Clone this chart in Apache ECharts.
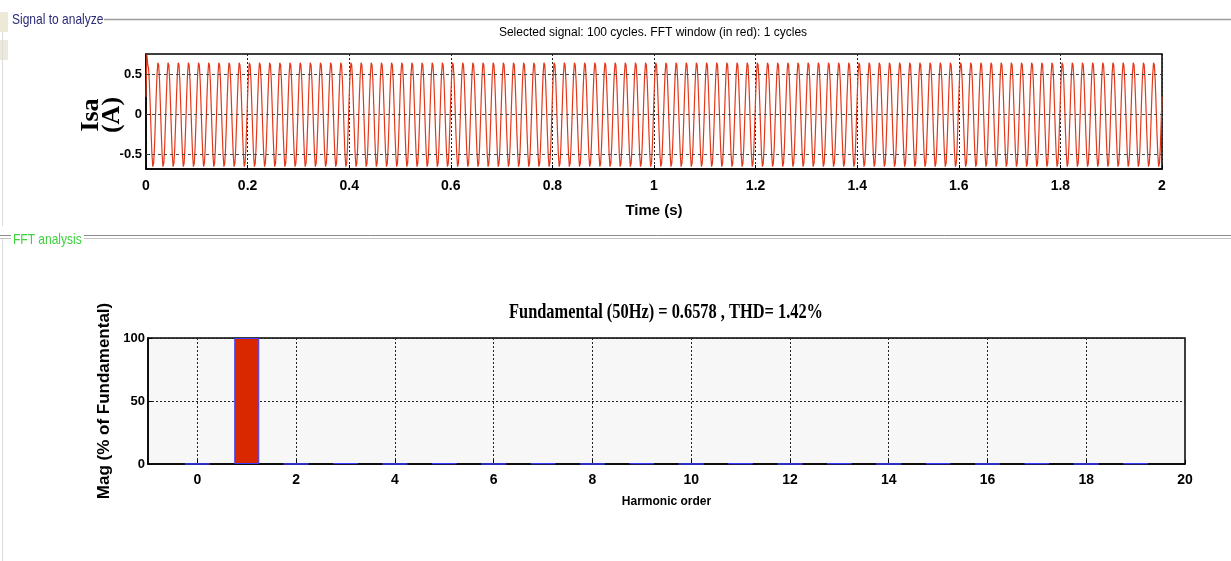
<!DOCTYPE html>
<html>
<head>
<meta charset="utf-8">
<script src="https://cdn.jsdelivr.net/npm/echarts@6/dist/echarts.min.js"></script>
<style>
  html, body { margin: 0; padding: 0; background: #fff; }
  #chart { width: 1231px; height: 561px; }
</style>
</head>
<body>
<div id="chart"></div>
<script>
// ---- signal to analyze: 100 cycles at 50 Hz over 2 s ----
// one cycle of the trace (12 samples); the first cycle has the start-up overshoot
const signalDuration = 2;
const signalCycles = 100;
const firstCycle = [0.22, 0.76, 0.63, 0.58, 0.40, 0.11, -0.22, -0.50, -0.66, -0.62, -0.42, -0.11];
const cycleSamples = [0.22, 0.50, 0.65, 0.62, 0.42, 0.11, -0.22, -0.50, -0.66, -0.62, -0.42, -0.11];
const currentTicks = [-0.5, 0, 0.5];

// ---- FFT analysis ----
const harmonicOrders = [0, 1, 2, 3, 4, 5, 6, 7, 8, 9, 10, 11, 12, 13, 14, 15, 16, 17, 18, 19];
const harmonicMags = [0.05, 100, 0.05, 0.6, 0.04, 0.5, 0.04, 0.45, 0.03, 0.45, 0.03, 0.45, 0.03, 0.45, 0.03, 0.45, 0.03, 0.45, 0.03, 0.45];
const harmonicTicks = [0, 2, 4, 6, 8, 10, 12, 14, 16, 18, 20];

const sans = "Arial, 'Liberation Sans', sans-serif";
const serif = "'Times New Roman', 'Liberation Serif', serif";

// build the trace from the sampled cycles
const perCycle = cycleSamples.length;
const signalData = [];
for (let k = 0; k < signalCycles; k++) {
  const cyc = k === 0 ? firstCycle : cycleSamples;
  for (let i = 0; i < perCycle; i++) {
    const t = (k * perCycle + i) / (perCycle * signalCycles) * signalDuration;
    signalData.push([t, cyc[i]]);
  }
}
signalData.push([signalDuration, cycleSamples[0]]);

const harmonicData = harmonicOrders.map((h, i) => [h, harmonicMags[i]]);

// grid lines drawn as mark lines where the axes do not start on a tick
const dotted = { color: '#222', type: [2, 2], width: 1 };
const dashed = { color: '#444', type: [3, 3], width: 1 };

const chart = echarts.init(document.getElementById('chart'));

const option = {
  animation: false,
  backgroundColor: '#fff',
  grid: [
    {
      left: 146, top: 54, width: 1016, height: 115,
      show: true, borderColor: '#000', borderWidth: 1.5, backgroundColor: '#fff'
    },
    {
      left: 148, top: 338, width: 1037, height: 126,
      show: true, borderColor: '#000', borderWidth: 1.5, backgroundColor: '#f7f7f7'
    }
  ],
  xAxis: [
    {
      gridIndex: 0, type: 'value', min: 0, max: 2, interval: 0.2,
      name: 'Time (s)', nameLocation: 'middle', nameGap: 34,
      nameTextStyle: { fontFamily: sans, fontWeight: 'bold', fontSize: 15, color: '#000' },
      axisLine: { onZero: false, lineStyle: { color: '#000', width: 1.5 } },
      axisTick: { inside: true, length: 4, lineStyle: { color: '#000' } },
      axisLabel: { margin: 10, color: '#000', fontFamily: sans, fontWeight: 'bold', fontSize: 14 },
      splitLine: { show: true, lineStyle: dotted }
    },
    {
      gridIndex: 1, type: 'value', min: -1, max: 20,
      name: 'Harmonic order', nameLocation: 'middle', nameGap: 32,
      nameTextStyle: { fontFamily: sans, fontWeight: 'bold', fontSize: 12, color: '#000' },
      axisLine: { onZero: false, lineStyle: { color: '#000', width: 1.5 } },
      axisTick: { inside: true, length: 4, customValues: harmonicTicks, lineStyle: { color: '#000' } },
      axisLabel: { margin: 9, color: '#000', fontFamily: sans, fontWeight: 'bold', fontSize: 14, customValues: harmonicTicks },
      splitLine: { show: false }
    }
  ],
  yAxis: [
    {
      gridIndex: 0, type: 'value', min: -0.69, max: 0.76,
      axisLine: { show: true, onZero: false, lineStyle: { color: '#000', width: 1.5 } },
      axisTick: { show: true, inside: true, length: 4, customValues: currentTicks, lineStyle: { color: '#000' } },
      axisLabel: { margin: 4, color: '#000', fontFamily: sans, fontWeight: 'bold', fontSize: 13, customValues: currentTicks },
      splitLine: { show: false }
    },
    {
      gridIndex: 1, type: 'value', min: 0, max: 100, interval: 50,
      name: 'Mag (% of Fundamental)', nameLocation: 'middle', nameGap: 23,
      nameTextStyle: { fontFamily: sans, fontWeight: 'bold', fontSize: 17, color: '#000' },
      axisLine: { show: true, onZero: false, lineStyle: { color: '#000', width: 1.5 } },
      axisTick: { show: true, inside: true, length: 4, lineStyle: { color: '#000' } },
      axisLabel: { margin: 3, color: '#000', fontFamily: sans, fontWeight: 'bold', fontSize: 13 },
      splitLine: { show: true, lineStyle: dotted }
    }
  ],
  series: [
    {
      type: 'line', xAxisIndex: 0, yAxisIndex: 0,
      data: signalData, showSymbol: false, sampling: false,
      lineStyle: { color: '#e4381a', width: 1.2 },
      markLine: {
        silent: true, symbol: 'none', label: { show: false }, lineStyle: dashed,
        data: currentTicks.map(v => ({ yAxis: v }))
      },
      z: 3
    },
    {
      type: 'bar', xAxisIndex: 1, yAxisIndex: 1,
      data: harmonicData, barWidth: 25,
      itemStyle: { color: '#d92800', borderColor: '#3b3bff', borderWidth: 1 },
      markLine: {
        silent: true, symbol: 'none', label: { show: false }, lineStyle: dotted, z: 1,
        data: harmonicTicks.slice(0, -1).map(v => ({ xAxis: v }))
      },
      z: 3
    }
  ],
  graphic: [
    { type: 'rect', shape: { x: 0, y: 12, width: 8, height: 20 }, style: { fill: '#ece9d8' } },
    { type: 'rect', shape: { x: 0, y: 40, width: 8, height: 20 }, style: { fill: '#ece9d8' } },
    { type: 'line', shape: { x1: 104, y1: 19.5, x2: 1231, y2: 19.5 }, style: { stroke: '#9a9a9a', lineWidth: 1.5 } },
    { type: 'line', shape: { x1: 2.5, y1: 32, x2: 2.5, y2: 226 }, style: { stroke: '#dcdcdc', lineWidth: 1 } },
    {
      type: 'text', x: 12, y: 20, scaleX: 0.8,
      style: { text: 'Signal to analyze', fill: '#2b2b78', font: '15px ' + sans, textVerticalAlign: 'middle' }
    },
    { type: 'line', shape: { x1: 0, y1: 235.5, x2: 11, y2: 235.5 }, style: { stroke: '#8c8c8c', lineWidth: 1 } },
    { type: 'line', shape: { x1: 0, y1: 238.5, x2: 11, y2: 238.5 }, style: { stroke: '#c4c4c4', lineWidth: 1 } },
    { type: 'line', shape: { x1: 84, y1: 235.5, x2: 1231, y2: 235.5 }, style: { stroke: '#8c8c8c', lineWidth: 1 } },
    { type: 'line', shape: { x1: 84, y1: 238.5, x2: 1231, y2: 238.5 }, style: { stroke: '#c4c4c4', lineWidth: 1 } },
    { type: 'line', shape: { x1: 2.5, y1: 239, x2: 2.5, y2: 561 }, style: { stroke: '#dcdcdc', lineWidth: 1 } },
    {
      type: 'text', x: 13, y: 240, scaleX: 0.8,
      style: { text: 'FFT analysis', fill: '#3ed23e', font: '15px ' + sans, textVerticalAlign: 'middle' }
    },
    {
      type: 'text', x: 653, y: 33,
      style: { text: 'Selected signal: 100 cycles. FFT window (in red): 1 cycles', fill: '#000', font: '12px ' + sans, textAlign: 'center', textVerticalAlign: 'middle' }
    },
    {
      type: 'text', x: 102, y: 115, rotation: Math.PI / 2,
      style: { text: 'Isa\n(A)', fill: '#000', font: 'bold 26px ' + serif, lineHeight: 21, textAlign: 'center', textVerticalAlign: 'middle' }
    },
    {
      type: 'text', x: 666, y: 313, scaleX: 0.78,
      style: { text: 'Fundamental (50Hz) = 0.6578 , THD= 1.42%', fill: '#000', font: 'bold 21px ' + serif, textAlign: 'center', textVerticalAlign: 'middle' }
    }
  ]
};

chart.setOption(option);
</script>
</body>
</html>
